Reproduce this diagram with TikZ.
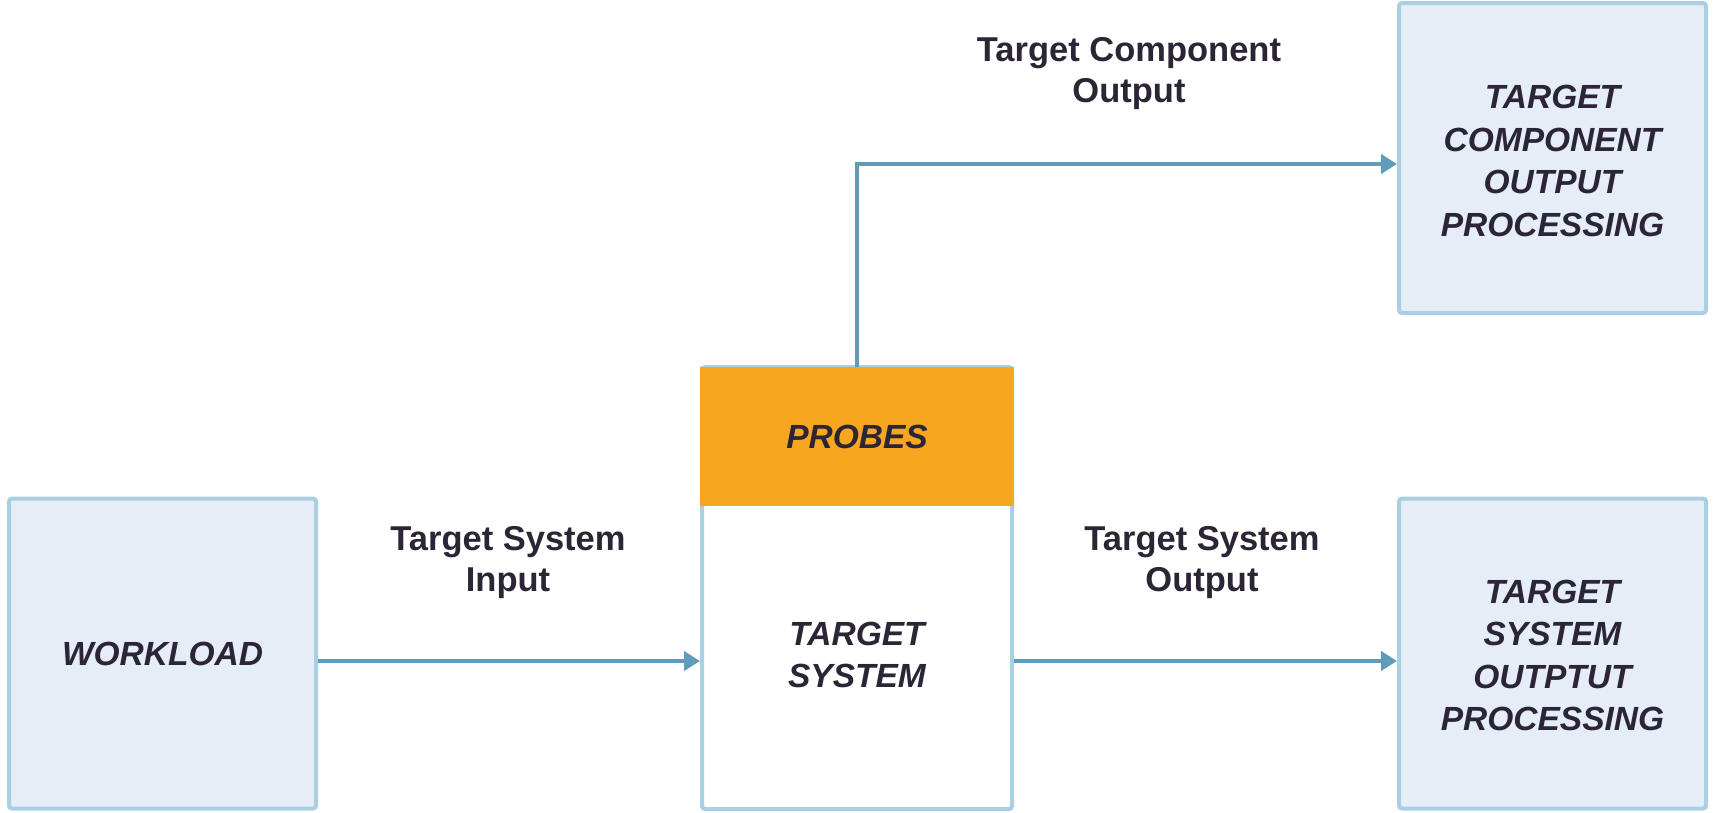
\documentclass[tikz,border=0pt]{standalone}
\usepackage{fontspec}
\setmainfont{Liberation Sans}
\usetikzlibrary{arrows.meta}
\definecolor{boxfill}{HTML}{E5EEF6}
\definecolor{boxline}{HTML}{A9CFE2}
\definecolor{arrowcol}{HTML}{5E9CBA}
\definecolor{probeorange}{HTML}{F7A620}
\definecolor{txt}{HTML}{2B2535}
\begin{document}
\begin{tikzpicture}[x=1pt,y=-1pt,
  box/.style={draw=boxline, line width=4pt, fill=boxfill, rounded corners=3pt,
    minimum width=307pt, minimum height=310pt, inner sep=0pt},
  boxtext/.style={text=txt, align=center, font=\fontsize{33.5}{42.5}\selectfont\bfseries\itshape},
  lbl/.style={text=txt, align=center, font=\fontsize{34.5}{41}\selectfont\bfseries},
  conn/.style={draw=arrowcol, line width=4pt, -{Triangle[length=16pt,width=19pt]}}]
\useasboundingbox (0,0) rectangle (1713,812);
% boxes
\node[box] (work) at (162.5,653.5) {};
\node[boxtext] at (work.center) {WORKLOAD};
\node[box, fill=white, minimum width=310pt, minimum height=442pt] (ts) at (857,588) {};
\node[fill=probeorange, minimum width=314pt, minimum height=139pt, inner sep=0pt, anchor=north] (pr) at ([yshift=-2pt]ts.north) {};
\node[boxtext] at (pr.center) {PROBES};
\node[boxtext] (tstext) at (857,655) {TARGET\\SYSTEM};
\node[box] (tcop) at (1552.5,158) {};
\node[boxtext] at ([yshift=-3pt]tcop.center) {TARGET\\COMPONENT\\OUTPUT\\PROCESSING};
\node[box] (tsop) at (1552.5,653.5) {};
\node[boxtext] at ([yshift=-2pt]tsop.center) {TARGET\\SYSTEM\\OUTPTUT\\PROCESSING};
% connectors
\draw[conn] (work.east |- 0,661) -- (ts.west |- 0,661);
\draw[conn] (ts.east |- 0,661) -- (tsop.west |- 0,661);
\coordinate (bend) at (857,164);
\draw[conn] (pr.north) -- (bend) -- (bend -| tcop.west);
% labels
\node[lbl] (lin) at (508,563) {Target System\\Input};
\node[lbl] (lout) at (1202,563) {Target System\\Output};
\node[lbl] (lcomp) at (1129,74) {Target Component\\Output};
\end{tikzpicture}
\end{document}
